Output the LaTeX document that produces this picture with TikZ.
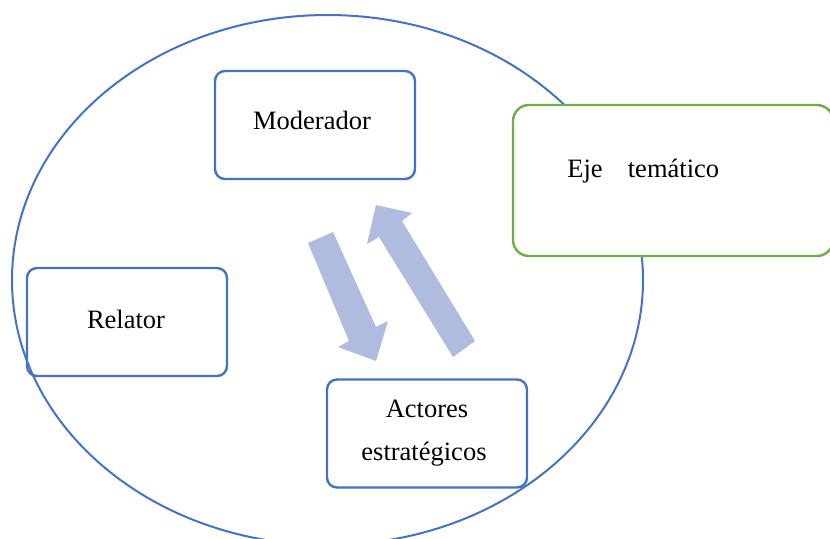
\documentclass[tikz,border=0pt]{standalone}
\usepackage{fontspec}
\setmainfont{Liberation Serif}
\definecolor{boxblue}{HTML}{4472C4}
\definecolor{boxgreen}{HTML}{70AD47}
\definecolor{arrowfill}{HTML}{AFBBDF}
\tikzset{
  rolebox/.style={draw=boxblue, line width=1.2pt, rounded corners=5pt,
    minimum width=100pt, minimum height=54pt, inner sep=0pt},
  themebox/.style={draw=boxgreen, line width=1.2pt, rounded corners=8pt, fill=white,
    minimum width=160pt, minimum height=75.5pt, inner sep=0pt},
  label/.style={anchor=base, inner sep=0pt, font=\fontsize{13.25}{21.5}\selectfont}
}
\begin{document}
\begin{tikzpicture}[x=0.5pt, y=-0.5pt]
  \useasboundingbox (0,0) rectangle (830,538);
  \clip (0,0) rectangle (830,538);
  \draw[boxblue, line width=1pt] (327.5,280) ellipse [x radius=315.5, y radius=265];
  % boxes
  \node[rolebox] (moderador) at (315,125) {};
  \node[rolebox] (relator) at (127,322) {};
  \node[rolebox] (actores) at (427,433.5) {};
  \node[themebox] (eje) at (673,180.5) {};
  % texts
  \node[label] (modtxt) at (312,129) {Moderador};
  \node[label] (reltxt) at (126,328) {Relator};
  \node[label] (acttxt) at (427,417) {Actores};
  \node[label] (esttxt) at (424,460) {estratégicos};
  \node[label, anchor=base west] (ejetxt) at (567,177) {Eje\hspace{0.95em}temático};
  % block arrows
  \fill[arrowfill] (308,243) -- (333,232) -- (376,327) -- (388,321) -- (376,361)
    -- (338,347) -- (349,341) -- cycle;
  \fill[arrowfill] (453,357) -- (475,341) -- (402,221) -- (412,213) -- (376,205)
    -- (367,244) -- (379,237) -- cycle;
\end{tikzpicture}
\end{document}
